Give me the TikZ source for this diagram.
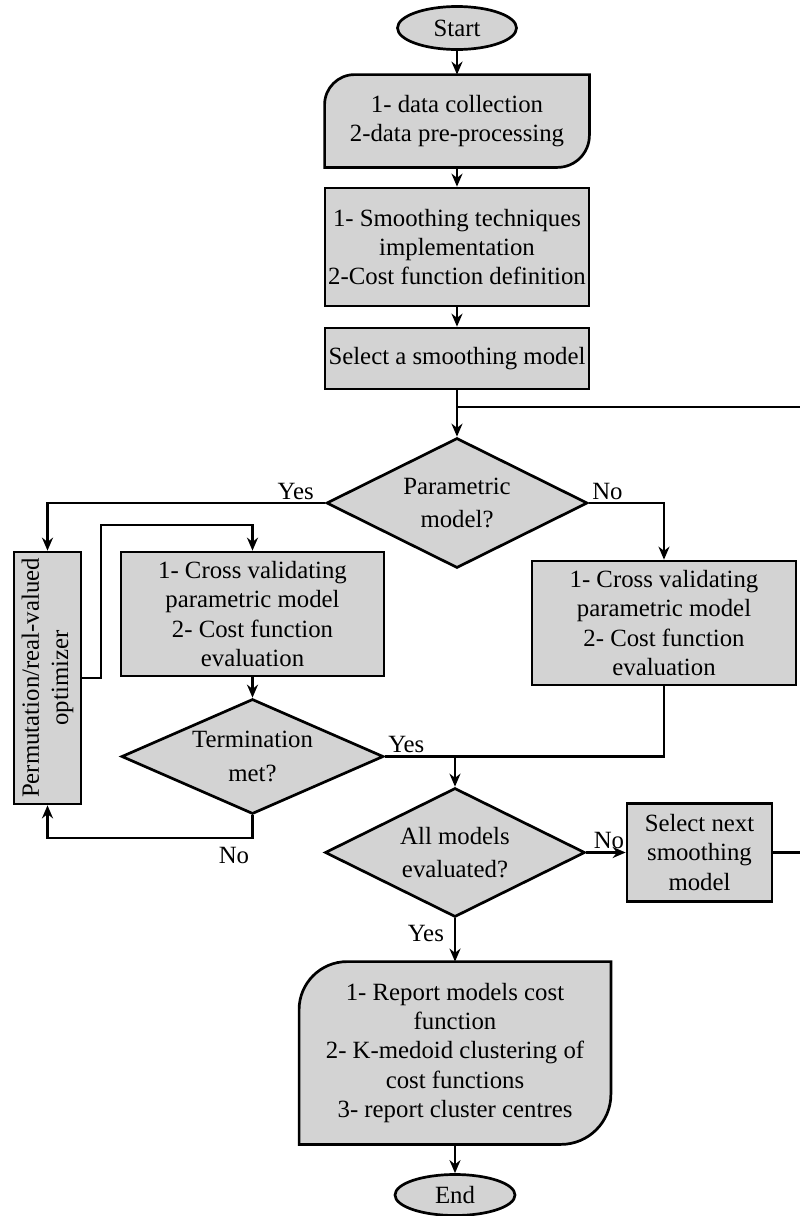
\documentclass[tikz,border=0pt]{standalone}
\usepackage{fontspec}
\setmainfont{Liberation Serif}
\usetikzlibrary{shapes.geometric,arrows.meta,positioning,backgrounds}
\definecolor{boxgray}{RGB}{211,211,211}

\begin{document}
\begin{tikzpicture}[x=0.5pt,y=0.5pt,
    every node/.style={font=\fontsize{12.4}{14.6}\selectfont},
    box/.style={draw,line width=1.35pt,fill=boxgray,align=center,inner sep=0pt},
    flowbox/.style={align=center,inner sep=0pt},
    decision/.style={diamond,draw,line width=1.35pt,fill=boxgray,align=center,inner sep=0pt,aspect=2.3},
    terminal/.style={ellipse,draw,line width=1.35pt,fill=boxgray,inner sep=0pt},
    line/.style={line width=1.1pt},
    arr/.style={line,-{Stealth[length=6.5pt,width=5.5pt]}},
    lbl/.style={inner sep=1.5pt}]
  \useasboundingbox (0,0) rectangle (799,-1216);

  % main column
  \node[terminal, minimum width=59.5pt, minimum height=21.5pt] (start) at (457,-28) {Start};
  \node[flowbox, minimum width=132pt, minimum height=46pt] (collect) at (457,-121) {1- data collection\\2-data pre-processing};
  \node[box, minimum width=132pt, minimum height=59pt] (smooth) at (457,-247) {1- Smoothing techniques\\implementation\\2-Cost function definition};
  \node[box, minimum width=132pt, minimum height=30.5pt] (select) at (457,-358.5) {Select a smoothing model};
  \node[decision, minimum width=130.5pt, minimum height=65pt] (param) at (457,-503) {Parametric\\[2pt]model?};

  % parametric branch
  \node[box, rotate=90, minimum width=126pt, minimum height=33.5pt] (opt) at (47.5,-678) {Permutation/real-valued\\optimizer};
  \node[box, minimum width=131.5pt, minimum height=62pt] (cvL) at (252.5,-614) {1- Cross validating\\parametric model\\2- Cost function\\evaluation};
  \node[decision, minimum width=131pt, minimum height=57.5pt] (term) at (252.5,-756.5) {Termination\\[2pt]met?};

  % non-parametric branch
  \node[box, minimum width=132pt, minimum height=62pt] (cvR) at (664,-623) {1- Cross validating\\parametric model\\2- Cost function\\evaluation};

  \node[decision, minimum width=130pt, minimum height=64.5pt] (all) at (455,-852.5) {All models\\[2pt]evaluated?};
  \node[box, minimum width=72.5pt, minimum height=49pt] (next) at (699.5,-852.5) {Select next\\smoothing\\model};
  \node[flowbox, minimum width=155.5pt, minimum height=91pt] (report) at (455,-1053) {1- Report models cost\\function\\2- K-medoid clustering of\\cost functions\\3- report cluster centres};
  \node[terminal, minimum width=60pt, minimum height=20.5pt] (end) at (455,-1195) {End};

  % outlines with two rounded corners
  \begin{scope}[on background layer]
    \filldraw[line width=1.35pt, fill=boxgray] ([yshift=16pt]collect.south east) arc[start angle=0, end angle=-90, radius=16pt]
      -- (collect.south west) -- ([yshift=-15pt]collect.north west) arc[start angle=180, end angle=90, radius=15pt]
      -- (collect.north east) -- cycle;
    \filldraw[line width=1.35pt, fill=boxgray] ([yshift=25pt]report.south east) arc[start angle=0, end angle=-90, radius=25pt]
      -- (report.south west) -- ([yshift=-24pt]report.north west) arc[start angle=180, end angle=90, radius=24pt]
      -- (report.north east) -- cycle;
  \end{scope}

  % connectors
  \coordinate (jtop) at (457,-407);
  \coordinate (loopr) at (801,-407);
  \draw[arr] (start) -- (collect);
  \draw[arr] (collect) -- (smooth);
  \draw[arr] (smooth) -- (select);
  \draw[arr] (select) -- (param);
  \draw[line] (next.east) -| (loopr) -- (jtop);

  \draw[arr] (param.west) -| (opt.east);
  \node[lbl, above left=0pt and 4pt of param.west] {Yes};
  \draw[arr] (param.east) -| (cvR.north);
  \node[lbl, above right=0pt and 0pt of param.east] {No};

  \draw[arr] (opt.south) -- ++(9.5pt,0) |- ([yshift=13pt]cvL.north) -- (cvL.north);
  \draw[arr] (cvL) -- (term);
  \coordinate (tno) at ([yshift=-11.5pt]term.south);
  \draw[arr] (term.south) -- (tno) -| (opt.west);
  \node[lbl, below left=2.5pt and 0pt of tno] {No};

  \coordinate (jn) at (all.north |- term.east);
  \draw[line] (term.east) -| (cvR.south);
  \draw[arr] (jn) -- (all.north);
  \node[lbl, above right=0pt and 0pt of term.east] {Yes};

  \draw[arr] (all.east) -- (next.west);
  \node[lbl, above right=0pt and 2pt of all.east] {No};
  \draw[arr] (all.south) -- node[lbl, left=3.5pt, pos=0.35] {Yes} (report.north);
  \draw[arr] (report) -- (end);
\end{tikzpicture}
\end{document}
